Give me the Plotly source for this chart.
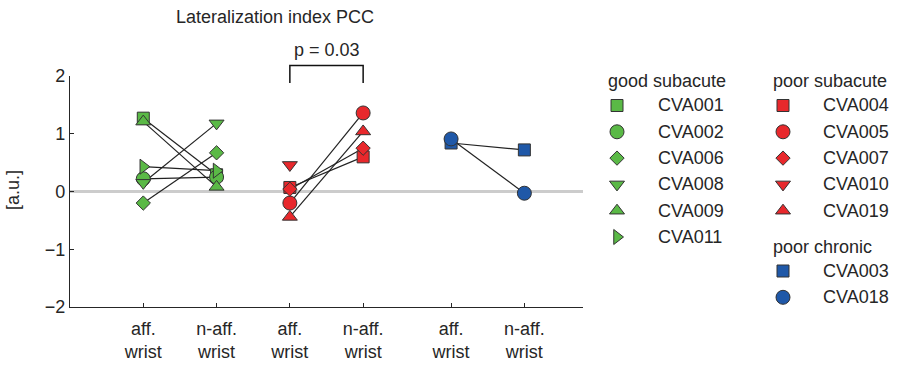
import plotly.graph_objects as go

# ---- data -------------------------------------------------------------
conditions = ["aff.<br>wrist", "n-aff.<br>wrist"] * 3
x_positions = [1, 2, 3, 4, 5.2, 6.2]

good_ids = ["CVA001", "CVA002", "CVA006", "CVA008", "CVA009", "CVA011"]
good_aff = [1.27, 0.22, -0.20, 0.15, 1.21, 0.43]
good_naff = [0.29, 0.25, 0.67, 1.18, 0.08, 0.36]

poor_sub_ids = ["CVA004", "CVA005", "CVA007", "CVA010", "CVA019"]
poor_sub_aff = [0.07, -0.20, 0.04, 0.46, -0.44]
poor_sub_naff = [0.60, 1.36, 0.75, None, 1.04]

poor_chr_ids = ["CVA003", "CVA018"]
poor_chr_aff = [0.84, 0.91]
poor_chr_naff = [0.72, -0.03]

p_text = "p = 0.03"

# ---- style ------------------------------------------------------------
W, H = 899, 367
FONT = "Liberation Sans, Arial, sans-serif"
INK = "#262626"
EDGE = "#333333"
GREEN, RED, BLUE = "#5ab946", "#e8282c", "#1f58a8"

SYMBOLS = {
    "CVA001": "square", "CVA002": "circle", "CVA006": "diamond",
    "CVA008": "triangle-down", "CVA009": "triangle-up", "CVA011": "triangle-right",
    "CVA004": "square", "CVA005": "circle", "CVA007": "diamond",
    "CVA010": "triangle-down", "CVA019": "triangle-up",
    "CVA003": "square", "CVA018": "circle",
}
SIZES = {"square": 12, "circle": 14, "diamond": 11, "triangle-down": 13,
         "triangle-up": 13, "triangle-right": 13}

groups = [
    (good_ids, good_aff, good_naff, GREEN, x_positions[0:2]),
    (poor_sub_ids, poor_sub_aff, poor_sub_naff, RED, x_positions[2:4]),
    (poor_chr_ids, poor_chr_aff, poor_chr_naff, BLUE, x_positions[4:6]),
]

# plot-area placement in pixels
PX_L, PX_R, PX_T, PX_B = 70, 583, 76, 307
X_RANGE = [0, 7]
Y_RANGE = [-2, 2]

fig = go.Figure()

# connecting lines (drawn beneath the markers)
for ids, aff, naff, color, xs in groups:
    for sid, a, n in zip(ids, aff, naff):
        if a is None or n is None:
            continue
        fig.add_trace(go.Scatter(
            x=xs, y=[a, n], mode="lines",
            line=dict(color="#222222", width=1.2),
            hoverinfo="skip", showlegend=False))

# subject markers
for ids, aff, naff, color, xs in groups:
    for sid, a, n in zip(ids, aff, naff):
        sym = SYMBOLS[sid]
        fig.add_trace(go.Scatter(
            x=xs, y=[a, n], mode="markers", name=sid,
            marker=dict(symbol=sym, size=SIZES[sym], color=color,
                        line=dict(color=EDGE, width=1)),
            cliponaxis=False, showlegend=False))

# ---- hand-built legend on a pixel-scaled overlay axis -----------------
annotations = []
ROW0, ROW_STEP = 105.5, 26.3
legend_cols = [
    ("good subacute", good_ids, GREEN, 606, 617, 656, 80.7, ROW0),
    ("poor subacute", poor_sub_ids, RED, 771, 783, 821, 80.7, ROW0),
    ("poor chronic", poor_chr_ids, BLUE, 771, 783, 821, 247, 271),
]
for title, ids, color, tx, mx, lx, ty, r0 in legend_cols:
    annotations.append(dict(
        x=tx / W, y=1 - ty / H, xref="paper", yref="paper",
        text=title, showarrow=False, xanchor="left", yanchor="middle",
        font=dict(family=FONT, size=18, color=INK)))
    for i, sid in enumerate(ids):
        ry = r0 + ROW_STEP * i
        sym = SYMBOLS[sid]
        fig.add_trace(go.Scatter(
            x=[mx], y=[ry], xaxis="x2", yaxis="y2", mode="markers",
            marker=dict(symbol=sym, size=SIZES[sym], color=color,
                        line=dict(color=EDGE, width=1)),
            hoverinfo="skip", showlegend=False))
        annotations.append(dict(
            x=lx / W, y=1 - ry / H, xref="paper", yref="paper",
            text=sid, showarrow=False, xanchor="left", yanchor="middle",
            font=dict(family=FONT, size=18, color=INK)))

# ---- significance bracket over the poor-subacute pair -----------------
def xdom(v):
    return (v - X_RANGE[0]) / (X_RANGE[1] - X_RANGE[0])

def ydom(v):
    return (v - Y_RANGE[0]) / (Y_RANGE[1] - Y_RANGE[0])

bx0, bx1 = x_positions[2], x_positions[3]
b_top, b_bot = 2.18, 1.88
fig.add_shape(type="path", xref="x domain", yref="y domain",
              path=(f"M {xdom(bx0)},{ydom(b_bot)} L {xdom(bx0)},{ydom(b_top)} "
                    f"L {xdom(bx1)},{ydom(b_top)} L {xdom(bx1)},{ydom(b_bot)}"),
              line=dict(color="#111111", width=1.5))
annotations.append(dict(
    x=(bx0 + bx1) / 2, y=ydom(2.45), xref="x", yref="y domain",
    text=p_text, showarrow=False, xanchor="center", yanchor="middle",
    font=dict(family=FONT, size=18, color=INK)))

# title and y label
annotations.append(dict(
    x=275 / W, y=1 - 17 / H, xref="paper", yref="paper",
    text="Lateralization index PCC", showarrow=False,
    xanchor="center", yanchor="middle",
    font=dict(family=FONT, size=18, color=INK)))
annotations.append(dict(
    x=13 / W, y=1 - 190 / H, xref="paper", yref="paper",
    text="[a.u.]", showarrow=False, textangle=-90,
    xanchor="center", yanchor="middle",
    font=dict(family=FONT, size=18, color=INK)))

axis_common = dict(showline=True, linecolor=INK, linewidth=1.3,
                   ticks="inside", ticklen=4, tickcolor=INK, tickwidth=1.3,
                   showgrid=False, mirror=False, automargin=False,
                   tickfont=dict(family=FONT, size=18, color=INK))

fig.update_layout(
    template="none",
    width=W, height=H,
    margin=dict(l=0, r=0, t=0, b=0, pad=0, autoexpand=False),
    paper_bgcolor="white", plot_bgcolor="rgba(0,0,0,0)",
    showlegend=False,
    xaxis=dict(domain=[PX_L / W, PX_R / W], range=X_RANGE,
               tickvals=x_positions, ticktext=conditions,
               ticklabelstandoff=5,
               zeroline=False, anchor="y", **axis_common),
    yaxis=dict(domain=[1 - PX_B / H, 1 - PX_T / H], range=Y_RANGE,
               tickvals=[-2, -1, 0, 1, 2], anchor="x",
               zeroline=True, zerolinecolor="#cccccc", zerolinewidth=3,
               **axis_common),
    xaxis2=dict(domain=[0, 1], range=[0, W], visible=False, anchor="y2",
                fixedrange=True, automargin=False),
    yaxis2=dict(domain=[0, 1], range=[H, 0], visible=False, anchor="x2",
                fixedrange=True, automargin=False),
    annotations=annotations,
)

fig.write_html("out.html")
